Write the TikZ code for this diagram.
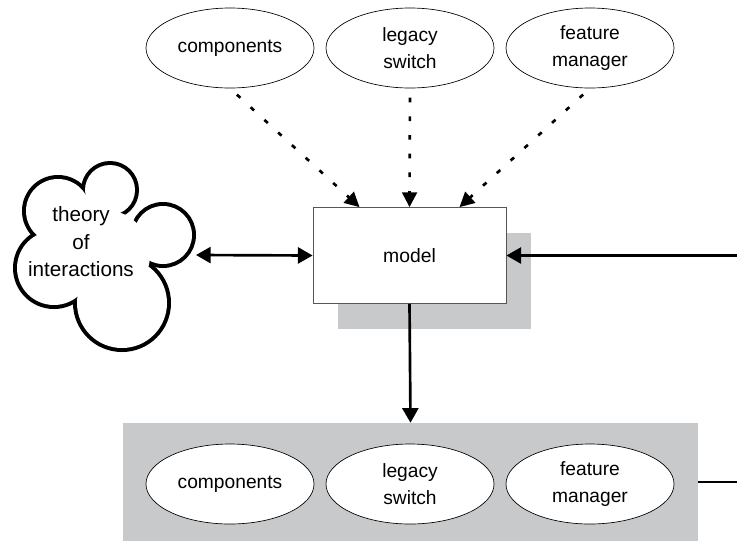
\documentclass[tikz,border=0pt]{standalone}
\usepackage{fontspec}
\setmainfont{Liberation Sans}
\usetikzlibrary{arrows.meta,positioning,shapes.geometric,shadows}
\definecolor{slate}{RGB}{200,201,203}
\definecolor{rim}{RGB}{85,85,85}
\tikzset{
  blob/.style={ellipse,draw=black,line width=0.5pt,fill=white,minimum width=126pt,
    minimum height=60pt,inner sep=0pt,align=center,font=\fontsize{14.4}{20}\selectfont},
  heavy/.style={line width=2pt,-{Triangle[length=11pt,width=12pt]}},
  dotarrow/.style={line width=2pt,dash pattern=on 3.5pt off 10.5pt,
    -{Triangle[length=11pt,width=11pt]},shorten <=7pt}
}

\begin{document}
\begin{tikzpicture}[x=0.75pt,y=-0.75pt]
    \useasboundingbox (0,0) rectangle (737,543);
    % cloud: thick rims first, then white fills on top
    \foreach \cx/\cy/\r in {58/211/32,110/190/25,163/235/29,122/303/45,54/268/37}
      \draw[line width=6pt] (\cx,\cy) circle (\r);
    \foreach \cx/\cy/\r in {58/211/32,110/190/25,163/235/29,122/303/45,54/268/37,105/255/45,92/222/22}
      \fill[white] (\cx,\cy) circle (\r);
    \node[font=\fontsize{15.5}{20.6}\selectfont,align=center] (theory) at (81,242) {theory\\of\\interactions};
    \coordinate (cloudE) at (196,255);

    \node[draw=rim,line width=0.6pt,fill=white,minimum width=144.75pt,minimum height=72pt,
      font=\fontsize{14.5}{18}\selectfont,
      drop shadow={shadow xshift=18.75pt,shadow yshift=-18.75pt,fill=slate,opacity=1}] (model) at (409.5,255.5) {model};

    \node[fill=slate,minimum width=431.25pt,minimum height=88.5pt,inner sep=0pt] (layer) at (410.5,482) {};

    \foreach \n/\x/\t in {comp/230/components,leg/410/{legacy\\switch},feat/590/{feature\\manager}}
    {
      \node[blob] (top-\n) at (\x,48) {\t};
      \node[blob] (low-\n) at (\x,484) {\t};
    }

    \foreach \n/\s in {comp/-37.5pt,leg/0pt,feat/37.5pt}
      \draw[dotarrow] (top-\n.south) -- ([xshift=\s]model.north);

    \coordinate (inR) at (737,255.5);
    \coordinate (outR) at (737,482);
    \draw[line width=2pt,{Triangle[length=11pt,width=12pt]}-{Triangle[length=11pt,width=12pt]}] (cloudE) -- (model.west);
    \draw[heavy] (inR) -- (model.east);
    \draw[heavy] (model.south) -- (layer.north);
    \draw[line width=2pt] (layer.east) -- (outR);
\end{tikzpicture}
\end{document}
